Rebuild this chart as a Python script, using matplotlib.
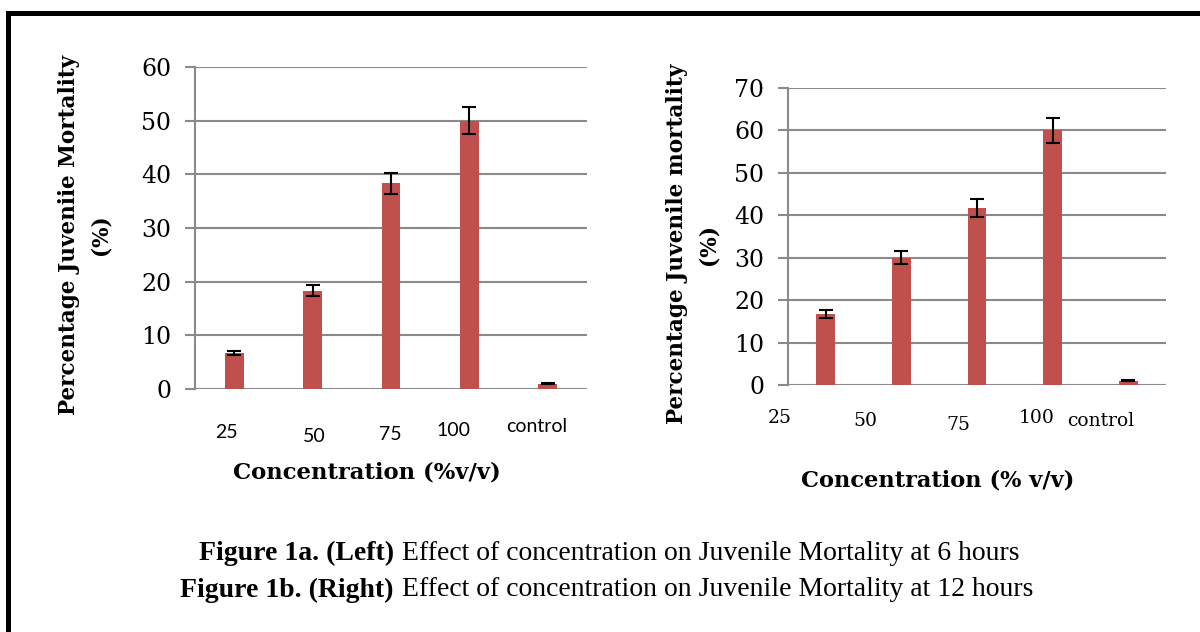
import matplotlib
matplotlib.use("Agg")
import matplotlib.pyplot as plt
from matplotlib.lines import Line2D
import numpy as np

# data
concentrations = ["25", "50", "75", "100", "control"]
mortality_6h = [6.7, 18.3, 38.3, 50.0, 1.0]
err_6h = [0.4, 1.0, 2.0, 2.5, 0.15]
mortality_12h = [16.7, 30.0, 41.7, 60.0, 1.0]
err_12h = [1.0, 1.5, 2.1, 3.0, 0.15]

W, H = 1200, 632
BAR_COLOR = "#C0504D"
GRID_COLOR = "#8A8A8A"
SERIF = "DejaVu Serif"

fig = plt.figure(figsize=(12, 6.32), dpi=100)


def px_axes(x0, x1, y_top, y_bot):
    # axes box given in pixel coordinates of the 1200x632 picture
    return fig.add_axes([x0 / W, (H - y_bot) / H, (x1 - x0) / W, (y_bot - y_top) / H])


def draw_panel(ax, values, errors, ymax, bar_w, label_offsets, tick_font, tick_size):
    x = np.arange(len(concentrations))
    ax.bar(x, values, width=bar_w, color=BAR_COLOR, zorder=3)
    ax.errorbar(x, values, yerr=errors, fmt="none", ecolor="black",
                elinewidth=1.5, capsize=5, capthick=1.5, zorder=4)
    ax.set_xlim(-0.5, len(concentrations) - 0.5)
    ax.set_ylim(0, ymax)
    ax.set_yticks(np.arange(0, ymax + 1, 10))
    ax.grid(axis="y", color=GRID_COLOR, linewidth=1.5, zorder=0)
    for side in ["top", "right", "bottom"]:
        ax.spines[side].set_visible(False)
    ax.spines["left"].set_color(GRID_COLOR)
    ax.spines["left"].set_linewidth(1.5)
    ax.tick_params(axis="y", length=7, width=1.5, color=GRID_COLOR, pad=10,
                   labelsize=17)
    for lab in ax.get_yticklabels():
        lab.set_fontfamily(SERIF)
    ax.set_xticks([])
    # category labels sit a little off their bars, as in the original
    for i, (name, (dx, dy)) in enumerate(zip(concentrations, label_offsets)):
        ax.annotate(name, xy=(i, 0), xycoords=("data", "axes fraction"),
                    xytext=(dx, -dy), textcoords="offset pixels",
                    ha="center", va="center", family=tick_font, fontsize=tick_size)


# left panel: 6 hours
ax1 = px_axes(195, 587, 67, 389)
draw_panel(ax1, mortality_6h, err_6h, 60, 0.24,
           [(-8, 44), (2, 47), (-1, 46), (-16, 42), (-11, 37)], "Lato", 14)

# right panel: 12 hours
ax2 = px_axes(788, 1166, 88, 385)
draw_panel(ax2, mortality_12h, err_12h, 70, 0.25,
           [(-46, 33), (-36, 36), (-19, 40), (-16, 33), (-28, 36)], SERIF, 13.5)


def ftext(xp, yp, s, **kw):
    fig.text(xp / W, 1 - yp / H, s, **kw)


lab_kw = dict(family=SERIF, fontweight="bold", ha="center", va="center")
ftext(69, 235, "Percentage Juveniie Mortality", rotation=90, fontsize=15.5, **lab_kw)
ftext(101, 235, "(%)", rotation=90, fontsize=15.5, **lab_kw)
ftext(677, 244, "Percentage Juvenile mortality", rotation=90, fontsize=15.6, **lab_kw)
ftext(708, 244, "(%)", rotation=90, fontsize=15.6, **lab_kw)
ftext(367, 472, "Concentration (%v/v)", fontsize=16.4, **lab_kw)
ftext(938, 480, "Concentration (% v/v)", fontsize=16.2, **lab_kw)

# caption, bold part right aligned against the plain part
cap_kw = dict(family="Liberation Serif", fontsize=20, va="center")
ftext(394, 553, "Figure 1a. (Left)", ha="right", fontweight="bold", **cap_kw)
ftext(402, 553, "Effect of concentration on Juvenile Mortality at 6 hours", ha="left", **cap_kw)
ftext(394, 590, "Figure 1b. (Right)", ha="right", fontweight="bold", **cap_kw)
ftext(402, 590, "Effect of concentration on Juvenile Mortality at 12 hours", ha="left", **cap_kw)

# black frame (left and top edges visible)
fig.add_artist(Line2D([7.5 / W, 7.5 / W], [0, 1 - 13 / H], color="black", linewidth=3.6,
                      transform=fig.transFigure, solid_capstyle="projecting"))
fig.add_artist(Line2D([7.5 / W, 1], [1 - 13 / H, 1 - 13 / H], color="black", linewidth=3.6,
                      transform=fig.transFigure, solid_capstyle="projecting"))

fig.savefig("out.png", dpi=100)
